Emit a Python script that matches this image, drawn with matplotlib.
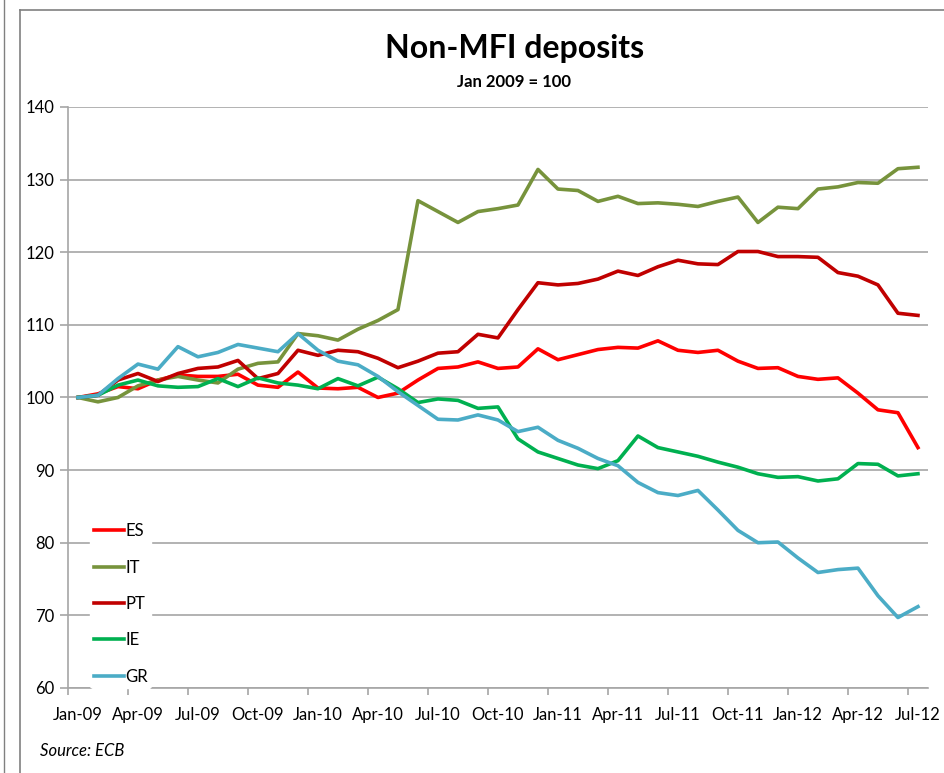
import numpy as np
import matplotlib.pyplot as plt
from matplotlib.lines import Line2D

plt.rcParams['font.family'] = ['Lato', 'DejaVu Sans']

months = ["Jan-09", "Apr-09", "Jul-09", "Oct-09", "Jan-10", "Apr-10", "Jul-10", "Oct-10",
          "Jan-11", "Apr-11", "Jul-11", "Oct-11", "Jan-12", "Apr-12", "Jul-12"]

es = [100.0, 100.5, 101.5, 101.2, 102.4, 103.1, 102.9, 102.9, 103.2, 101.7, 101.4,
      103.5, 101.3, 101.2, 101.4, 100.0, 100.6, 102.4, 104.0, 104.2, 104.9,
      104.0, 104.2, 106.7, 105.2, 105.9, 106.6, 106.9, 106.8, 107.8, 106.5,
      106.2, 106.5, 105.0, 104.0, 104.1, 102.9, 102.5, 102.7, 100.6, 98.3,
      97.9, 93.1]
it = [100.0, 99.4, 100.0, 101.6, 102.4, 102.9, 102.4, 102.0, 103.9, 104.7, 104.9,
      108.8, 108.5, 107.9, 109.4, 110.6, 112.1, 127.1, 125.6, 124.1, 125.6,
      126.0, 126.5, 131.4, 128.7, 128.5, 127.0, 127.7, 126.7, 126.8, 126.6,
      126.3, 127.0, 127.6, 124.1, 126.2, 126.0, 128.7, 129.0, 129.6, 129.5,
      131.5, 131.7]
pt = [100.0, 100.3, 102.4, 103.3, 102.2, 103.3, 104.0, 104.2, 105.1, 102.6, 103.3,
      106.5, 105.8, 106.5, 106.3, 105.4, 104.1, 105.0, 106.1, 106.3, 108.7,
      108.2, 112.1, 115.8, 115.5, 115.7, 116.3, 117.4, 116.8, 118.0, 118.9,
      118.4, 118.3, 120.1, 120.1, 119.4, 119.4, 119.3, 117.2, 116.7, 115.5,
      111.6, 111.3]
ie = [100.0, 100.3, 101.7, 102.4, 101.6, 101.4, 101.5, 102.6, 101.5, 102.7, 102.0,
      101.7, 101.2, 102.6, 101.6, 102.8, 101.2, 99.3, 99.8, 99.6, 98.5,
      98.7, 94.3, 92.5, 91.6, 90.7, 90.2, 91.3, 94.7, 93.1, 92.5,
      91.9, 91.1, 90.4, 89.5, 89.0, 89.1, 88.5, 88.8, 90.9, 90.8,
      89.2, 89.5]
gr = [100.0, 100.3, 102.6, 104.6, 103.9, 107.0, 105.6, 106.2, 107.3, 106.8, 106.3,
      108.8, 106.5, 105.0, 104.5, 102.9, 100.8, 98.9, 97.0, 96.9, 97.6,
      96.9, 95.3, 95.9, 94.1, 93.0, 91.6, 90.6, 88.3, 86.9, 86.5,
      87.2, 84.5, 81.7, 80.0, 80.1, 77.9, 75.9, 76.3, 76.5, 72.7,
      69.7, 71.2]

series = [("ES", es, "#FF0000"), ("IT", it, "#77933C"), ("PT", pt, "#C00000"),
          ("IE", ie, "#00B050"), ("GR", gr, "#4BACC6")]

fig = plt.figure(figsize=(9.44, 7.73), dpi=100)
ax = fig.add_axes([0.072, 0.110, 0.911, 0.7516])

x = np.arange(len(es))
for name, vals, col in series:
    ax.plot(x, vals, color=col, lw=2.6, label=name, solid_joinstyle='round')

ax.set_xlim(-0.5, len(es) - 0.5)
ax.set_ylim(60, 140)
ax.set_yticks(np.arange(60, 141, 10))
ax.yaxis.grid(True, color='#A6A6A6', lw=1.2)
ax.set_axisbelow(True)

ax.set_xticks(np.arange(0, len(es), 3))
ax.set_xticklabels(months)
ax.set_xticks(np.arange(-0.5, len(es), 3), minor=True)
ax.tick_params(axis='x', which='major', length=0, pad=14, labelsize=12)
ax.tick_params(axis='x', which='minor', length=5, color='#A6A6A6', width=1.2)
ax.tick_params(axis='y', length=6, color='#A6A6A6', width=1.2, labelsize=12, pad=4)

for s in ['top', 'right']:
    ax.spines[s].set_visible(False)
for s in ['left', 'bottom']:
    ax.spines[s].set_color('#A6A6A6')
    ax.spines[s].set_linewidth(1.2)

leg = ax.legend(loc='lower left', bbox_to_anchor=(0.026, 0.0), frameon=True,
                fontsize=12, labelspacing=1.22, handlelength=1.8, handletextpad=0.1,
                borderpad=0.2, borderaxespad=0.0)
leg.get_frame().set_facecolor('white')
leg.get_frame().set_edgecolor('white')
leg.get_frame().set_alpha(1)

fig.text(0.5447, 0.937, "Non-MFI deposits", ha='center', va='center',
         fontsize=23, fontweight='bold')
fig.text(0.5447, 0.894, "Jan 2009 = 100", ha='center', va='center',
         fontsize=12, fontweight='bold')
fig.text(0.042, 0.029, "Source: ECB", ha='left', va='center',
         fontsize=12, style='italic')

# outer frame lines
fig.add_artist(Line2D([0.021, 0.021], [0.0, 0.987], color='#808080', lw=1.2))
fig.add_artist(Line2D([0.021, 1.0], [0.987, 0.987], color='#808080', lw=1.2))
fig.add_artist(Line2D([0.004, 0.004], [0.0, 1.0], color='#808080', lw=1.0))

fig.savefig("out.png", dpi=100)
